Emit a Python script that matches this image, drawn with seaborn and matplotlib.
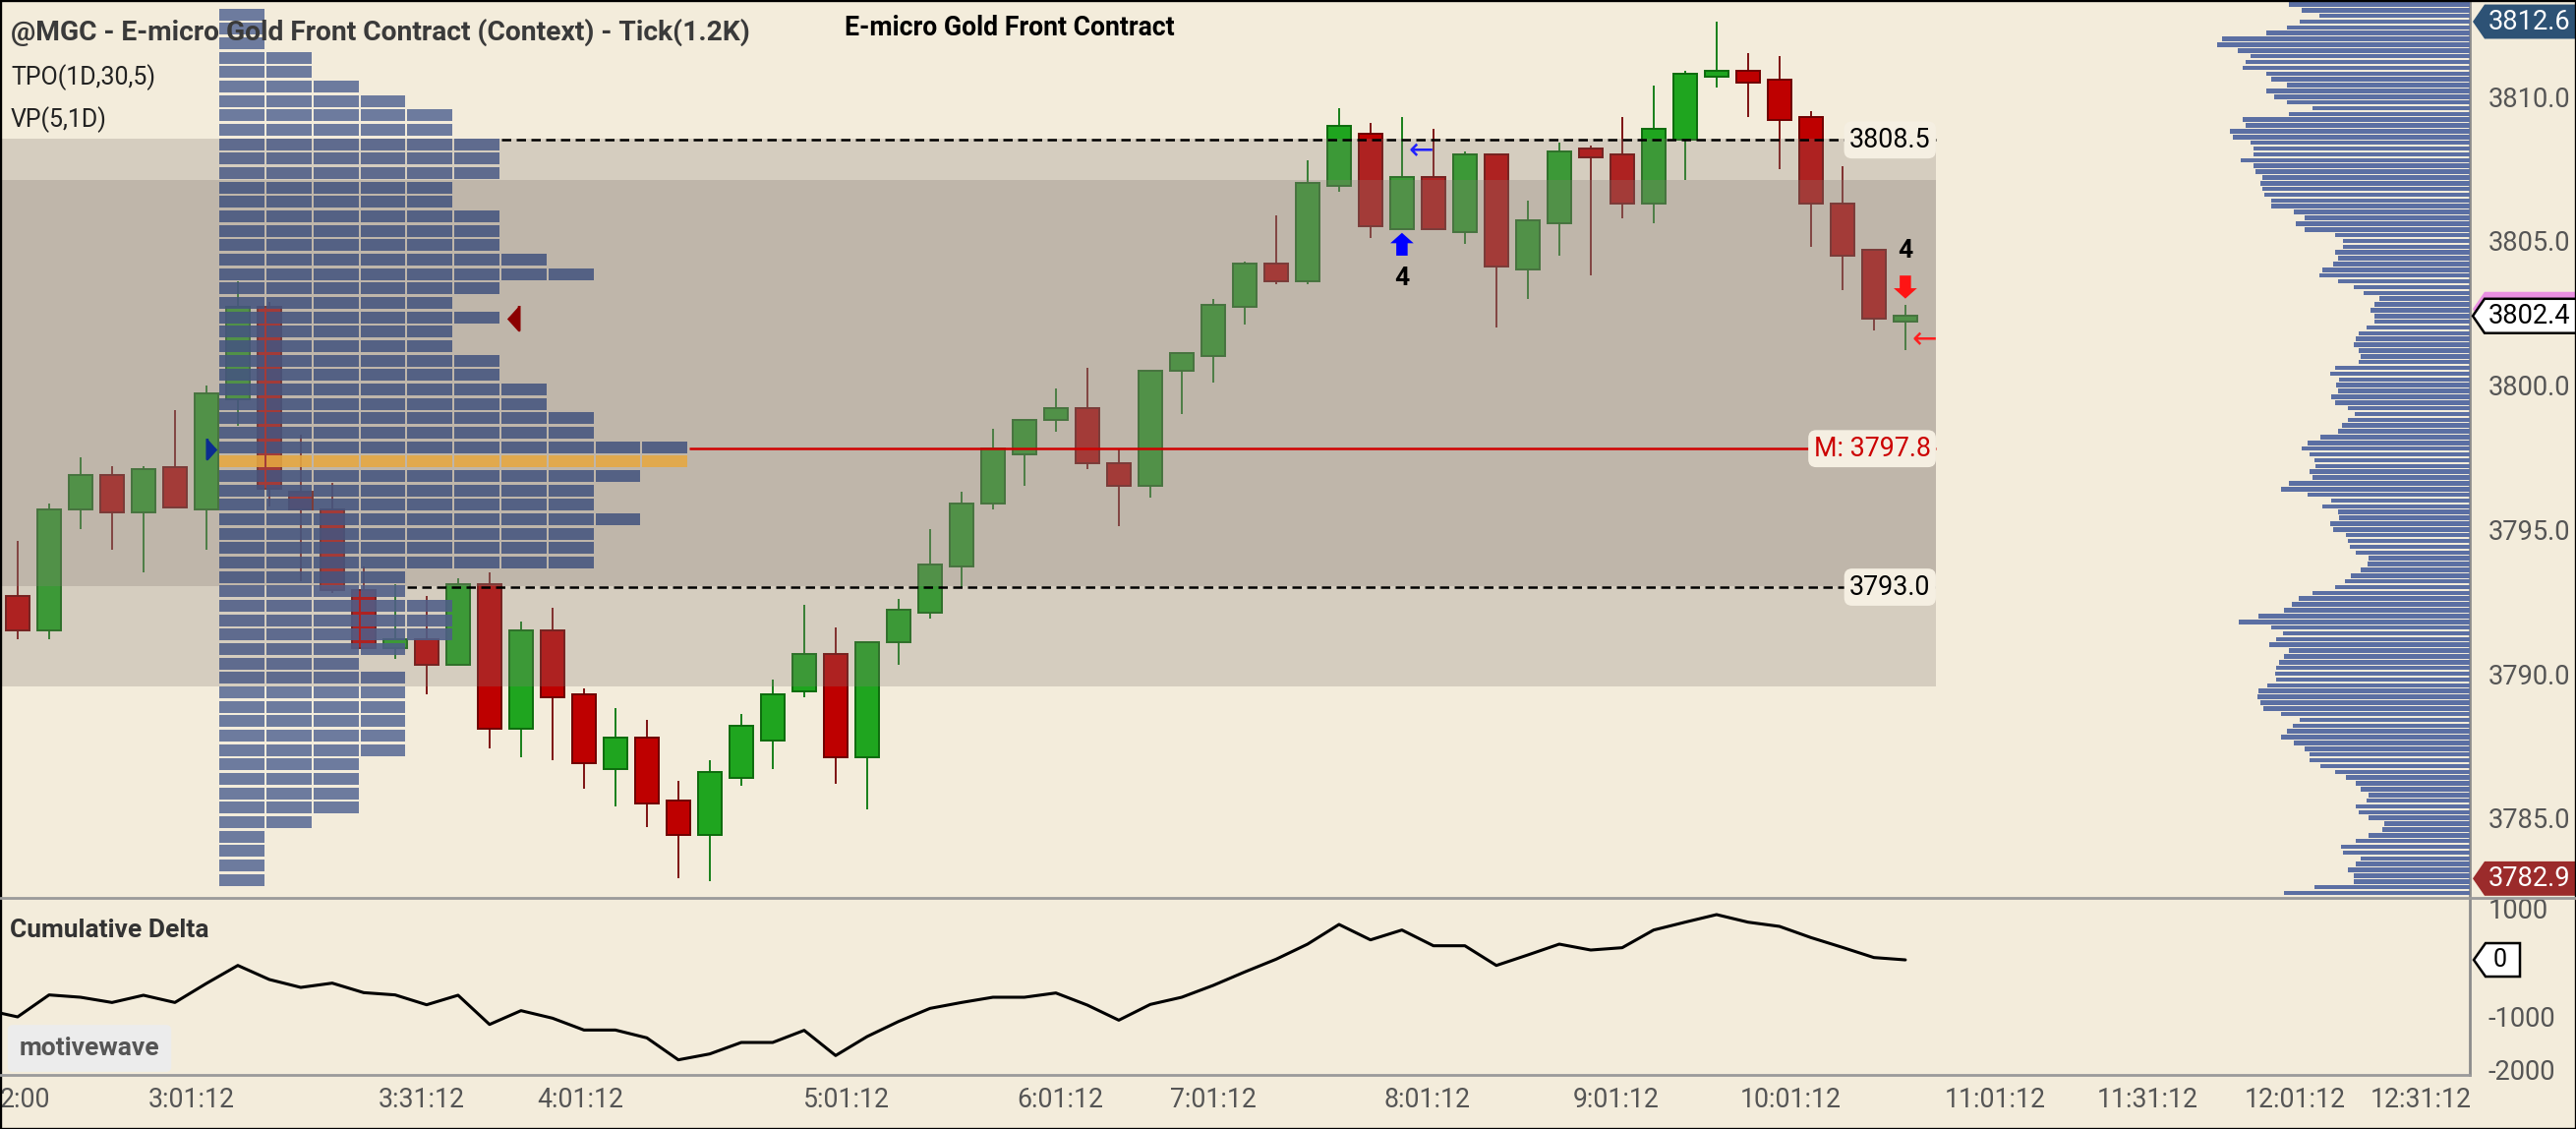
import numpy as np
import pandas as pd
import matplotlib
matplotlib.use("Agg")
import matplotlib.pyplot as plt
import matplotlib.transforms as mtransforms
from matplotlib.patches import Polygon, Rectangle
from matplotlib.lines import Line2D
import seaborn as sns

# ---- values ----
opens = [3792.7, 3791.5, 3795.7, 3796.9, 3795.6, 3797.15, 3795.7, 3799.5, 3802.7, 3796.3,
         3795.7, 3792.9, 3790.9, 3791.2, 3790.3, 3793.1, 3788.1, 3791.5, 3789.3, 3786.7,
         3787.8, 3785.6, 3784.4, 3786.4, 3787.7, 3789.4, 3790.7, 3787.1, 3791.1, 3792.1,
         3793.7, 3795.9, 3797.6, 3798.8, 3799.2, 3797.3, 3796.5, 3800.5, 3801.0, 3802.7,
         3804.2, 3803.6, 3806.9, 3808.7, 3805.4, 3807.2, 3805.3, 3808.0, 3804.0, 3805.6,
         3808.2, 3808.0, 3806.3, 3808.5, 3810.7, 3810.9, 3810.6, 3809.3, 3806.3, 3804.7,
         3802.2]
highs = [3794.6, 3795.9, 3797.5, 3797.2, 3797.2, 3799.15, 3800.0, 3803.6, 3802.9, 3798.3,
         3796.6, 3793.7, 3793.1, 3792.7, 3793.3, 3793.5, 3791.8, 3792.3, 3789.5, 3788.8,
         3788.4, 3786.3, 3787.0, 3788.6, 3789.8, 3792.4, 3791.6, 3791.1, 3792.6, 3795.0,
         3796.3, 3798.5, 3798.8, 3799.9, 3800.6, 3797.8, 3800.5, 3801.1, 3803.0, 3804.3,
         3805.9, 3807.8, 3809.6, 3809.1, 3809.3, 3808.9, 3808.1, 3808.0, 3806.4, 3808.4,
         3808.3, 3809.3, 3810.4, 3810.9, 3812.6, 3811.5, 3811.4, 3809.5, 3807.6, 3804.7,
         3802.8]
lows = [3791.2, 3791.2, 3795.0, 3794.3, 3793.5, 3795.75, 3794.3, 3798.6, 3795.8, 3793.2,
        3792.8, 3790.9, 3790.5, 3789.3, 3790.3, 3787.4, 3787.1, 3787.0, 3786.0, 3785.4,
        3784.7, 3782.9, 3782.8, 3786.1, 3786.7, 3789.2, 3786.2, 3785.3, 3790.3, 3791.9,
        3793.0, 3795.7, 3796.5, 3798.4, 3797.1, 3795.1, 3796.1, 3799.0, 3800.1, 3802.1,
        3803.5, 3803.5, 3806.7, 3805.1, 3805.4, 3805.4, 3804.9, 3802.0, 3803.0, 3804.5,
        3803.8, 3805.8, 3805.6, 3807.1, 3810.3, 3809.3, 3807.5, 3804.8, 3803.3, 3801.9,
        3801.2]
closes = [3791.5, 3795.7, 3796.9, 3795.6, 3797.1, 3795.75, 3799.7, 3802.7, 3796.4, 3795.7,
          3792.9, 3790.9, 3791.2, 3790.3, 3793.1, 3788.1, 3791.5, 3789.2, 3786.9, 3787.8,
          3785.5, 3784.4, 3786.6, 3788.2, 3789.3, 3790.7, 3787.1, 3791.1, 3792.2, 3793.8,
          3795.9, 3797.8, 3798.8, 3799.2, 3797.3, 3796.5, 3800.5, 3801.1, 3802.8, 3804.2,
          3803.6, 3807.0, 3809.0, 3805.5, 3807.2, 3805.4, 3808.0, 3804.1, 3805.7, 3808.1,
          3807.9, 3806.3, 3808.9, 3810.8, 3810.9, 3810.5, 3809.2, 3806.3, 3804.5, 3802.3,
          3802.4]

delta_prev = -890
cum_delta = [-1018, -612, -655, -752, -618, -752, -400, -67, -327, -473,
             -394, -570, -612, -794, -618, -1158, -903, -1042, -1261, -1261,
             -1406, -1812, -1703, -1491, -1491, -1267, -1733, -1382, -1103, -861,
             -752, -655, -655, -576, -800, -1079, -788, -655, -436, -188,
             48, 327, 691, 406, 588, 297, 297, -67, 127, 327,
             218, 261, 588, 733, 873, 733, 655, 448, 267, 79, 36]

# TPO profile: blocks per 0.5 row, from the top row down
tpo_top = 3812.85
tpo_step = 0.5
tpo_counts = [1, 1, 1, 2, 2, 3, 4, 5, 5, 6,
              6, 6, 5, 5, 6, 6, 6, 7, 8, 6,
              5, 6, 5, 5, 6, 6, 7, 7, 8, 8,
              10, 10, 9, 8, 8, 9, 8, 8, 8, 4,
              4, 5, 5, 5, 4, 3, 4, 4, 4, 4,
              4, 4, 3, 3, 3, 3, 2, 1, 1, 1, 1]
poc_price = 3797.35
tpo_marker_price = 3802.35

# volume profile on the right edge, 0.2 rows from the top down
vp_top = 3813.2
vp_step = 0.2
vp_volume = [184, 171, 153, 173, 186, 207, 252, 257, 236, 223,
             228, 231, 207, 202, 186, 207, 199, 186, 160, 184,
             231, 228, 244, 241, 223, 220, 220, 233, 220, 218,
             211, 213, 211, 209, 202, 202, 179, 168, 177, 168,
             137, 129, 129, 137, 134, 139, 150, 153, 134, 118,
             108, 92, 97, 101, 97, 97, 105, 113, 116, 118,
             113, 111, 113, 137, 142, 133, 136, 134, 141, 137,
             124, 117, 124, 130, 134, 152, 165,
             171, 163, 158, 157, 163, 160, 184, 192, 165, 141,
             150, 134, 133, 142, 139, 126, 124, 122, 116, 103,
             104, 111, 121, 127, 137, 160, 174, 181, 189, 215,
             235, 202, 190, 197, 204, 184, 189, 194, 197, 198,
             197, 206, 215, 216, 213, 210, 192, 173, 180, 186,
             192, 179, 168, 163, 163, 152, 137, 126, 116, 111,
             103, 105, 116, 113, 103, 87, 89, 103, 116, 131,
             129, 111, 116, 124, 118, 118, 158, 189]

va_high = 3808.5
va_low = 3793.0
mid_price = 3797.8
band_outer = (3789.55, 3808.55)
band_inner = (3793.05, 3807.1)

session_high = 3812.6
session_low = 3782.9
last_price = 3802.4

signal_up_bar, signal_up_count = 44, 4
signal_dn_bar, signal_dn_count = 60, 4

time_labels = ["2:00", "3:01:12", "3:31:12", "4:01:12", "5:01:12", "6:01:12", "7:01:12",
               "8:01:12", "9:01:12", "10:01:12", "11:01:12", "11:31:12", "12:01:12", "12:31:12"]
time_pos = [0.25, 5.53, 12.85, 17.88, 26.35, 33.13, 38.0, 44.8, 50.8, 56.35,
            62.85, 67.7, 72.4, 76.4]
price_ticks = [3785, 3790, 3795, 3800, 3805, 3810]
delta_ticks = [1000, -1000, -2000]

# ---- layout (pixels of the 2620x1148 picture) ----
W, H, DPI = 2620, 1148, 200
PANEL_R, MAIN_B, DELTA_B = 2512, 913, 1093
BAR_PX, BAR0_PX = 32.0, 17.9
BAND_R_PX = 1969
CREAM = "#f3ecdb"

def fx(x):
    return x / W

def fy(y):
    return 1 - y / H

def bar_of(px):
    return (px - BAR0_PX) / BAR_PX

sns.set_theme(style="white")
plt.rcParams["font.family"] = ["Roboto", "DejaVu Sans"]

fig = plt.figure(figsize=(W / DPI, H / DPI), dpi=DPI)
fig.patch.set_facecolor(CREAM)
ax = fig.add_axes([0, fy(MAIN_B), fx(PANEL_R), MAIN_B / H])
axd = fig.add_axes([0, fy(DELTA_B), fx(PANEL_R), (DELTA_B - MAIN_B) / H])
xlim = (bar_of(0), bar_of(PANEL_R))
for a in (ax, axd):
    a.set_facecolor(CREAM)
    a.set_xlim(xlim)
    for s in ("top", "left", "bottom"):
        a.spines[s].set_visible(False)
    a.spines["right"].set_color("#8c8c8c")
    a.spines["right"].set_linewidth(1.0)
ax.set_ylim(3782.23, 3813.35)
axd.set_ylim(-2091, 1182)

# candles
df = pd.DataFrame({"o": opens, "h": highs, "l": lows, "c": closes})
df["i"] = np.arange(len(df))
up = df.c >= df.o
body_col = np.where(up, "#1fa51f", "#be0000").tolist()
edge_col = np.where(up, "#0d6b0d", "#6e0000").tolist()
wick_col = np.where(up, "#17801a", "#7d1212").tolist()
ax.vlines(df.i, df.l, df.h, colors=wick_col, lw=0.7, zorder=2)
ax.bar(df.i, np.maximum((df.c - df.o).abs(), 0.12), bottom=np.minimum(df.o, df.c),
       width=0.76, color=body_col, edgecolor=edge_col, linewidth=0.7, zorder=2.5)

# value area shading
band_right = bar_of(BAND_R_PX)
for lo, hi in (band_outer, band_inner):
    ax.add_patch(Rectangle((xlim[0], lo), band_right - xlim[0], hi - lo,
                           fc="#887d77", alpha=0.28, lw=0, zorder=3))

# TPO blocks
TPO_X0 = bar_of(223.2)
TPO_PITCH = 47.8 / BAR_PX
TPO_BLOCK = 45.8 / BAR_PX
tpo_prices = tpo_top - tpo_step * np.arange(len(tpo_counts))
for p, cnt in zip(tpo_prices, tpo_counts):
    if abs(p - poc_price) < 0.01:
        col = "#e6a840"
    elif band_inner[0] < p < band_inner[1]:
        col = "#45557f"
    elif band_outer[0] < p < band_outer[1]:
        col = "#4f5e88"
    else:
        col = "#5b6b96"
    ax.barh([p] * cnt, [TPO_BLOCK] * cnt, left=TPO_X0 + TPO_PITCH * np.arange(cnt),
            height=0.41, color=col, alpha=0.88, lw=0, zorder=4)

def tpo_end(price):
    k = int(np.argmin(np.abs(tpo_prices - price)))
    return TPO_X0 + TPO_PITCH * tpo_counts[k]

# volume profile
vp_prices = vp_top - vp_step * np.arange(len(vp_volume))
vp_w = np.array(vp_volume) / BAR_PX
ax.barh(vp_prices, vp_w, left=xlim[1] - vp_w, height=0.155, color="#5b6fa3", lw=0, zorder=4)

# reference lines and labels
ax.hlines(mid_price, tpo_end(mid_price), band_right, colors="#d00000", lw=0.9, zorder=5)
for lv in (va_high, va_low):
    ax.hlines(lv, tpo_end(lv), band_right, colors="black", linestyles=(0, (3.8, 2.2)),
              lw=0.9, zorder=5)
for lv, txt, col in ((va_high, f"{va_high:.1f}", "black"),
                     (va_low, f"{va_low:.1f}", "black"),
                     (mid_price, f"M: {mid_price:.1f}", "#cc0000")):
    ax.text(band_right - 0.17, lv, txt, ha="right", va="center", fontsize=9.7, color=col,
            zorder=7, bbox=dict(boxstyle="round,pad=0.2,rounding_size=0.3", fc="#f5efe2", ec="none"))

# TPO markers
ax.plot(tpo_end(tpo_marker_price) + 0.38, tpo_marker_price,
        marker=[(-0.45, 0), (0.45, -1), (0.45, 1)], ms=9, color="#8b0000", zorder=6)
ax.plot(TPO_X0 - 0.27, mid_price, marker=[(0.45, 0), (-0.45, -1), (-0.45, 1)],
        ms=7.5, color="#0b2d8f", zorder=6)

# signals
ax.arrow(signal_up_bar, 3804.49, 0, 0.79, width=0.36, head_width=0.74, head_length=0.36,
         length_includes_head=True, fc="#0000ff", ec="none", zorder=6)
ax.text(signal_up_bar, 3803.7, str(signal_up_count), ha="center", va="center",
        fontsize=9.5, fontweight="bold", color="black", zorder=6)
ax.text(signal_up_bar + 0.62, 3808.11, "\u2190", ha="center", va="center", fontsize=11,
        color="#2020ff", family="DejaVu Sans", zorder=6)
ax.arrow(signal_dn_bar, 3803.8, 0, -0.8, width=0.36, head_width=0.74, head_length=0.36,
         length_includes_head=True, fc="#ff1414", ec="none", zorder=6)
ax.text(signal_dn_bar, 3804.66, str(signal_dn_count), ha="center", va="center",
        fontsize=9.5, fontweight="bold", color="black", zorder=6)
ax.text(signal_dn_bar + 0.62, 3801.57, "\u2190", ha="center", va="center", fontsize=11,
        color="#ff2020", family="DejaVu Sans", zorder=6)

# right axis
ax.yaxis.tick_right()
ax.set_yticks(price_ticks)
ax.set_yticklabels([f"{t:.1f}" for t in price_ticks])
ax.tick_params(axis="y", length=0, pad=6.8, labelsize=9.8, labelcolor="#555555")
ax.set_xticks([])

def price_tag(a, y, h, txt, fc, ec, tc, tip_px=2515, right_px=2625, notch_px=12):
    tr = mtransforms.blended_transform_factory(a.transAxes, a.transData)
    x0, x1, xr = tip_px / PANEL_R, (tip_px + notch_px) / PANEL_R, right_px / PANEL_R
    poly = Polygon([(x0, y), (x1, y + h / 2), (xr, y + h / 2), (xr, y - h / 2), (x1, y - h / 2)],
                   closed=True, fc=fc, ec=ec, lw=0.9, transform=tr, clip_on=False, zorder=8)
    a.add_patch(poly)
    if txt:
        a.text(2531 / PANEL_R, y, txt, transform=tr, ha="left", va="center", fontsize=9.8,
               color=tc, clip_on=False, zorder=9)

price_tag(ax, session_high, 1.19, f"{session_high:.1f}", "#2d5275", "none", "white")
price_tag(ax, last_price + 0.24, 1.19, "", "#e98fe2", "none", "black")
price_tag(ax, last_price, 1.19, f"{last_price:.1f}", "white", "black", "black")
price_tag(ax, session_low, 1.19, f"{session_low:.1f}", "#9b2b2b", "none", "white")

# cumulative delta
sns.lineplot(x=np.arange(-1, len(cum_delta)), y=[delta_prev] + cum_delta, ax=axd,
             color="black", lw=1.1, legend=False)
axd.set_xlabel("")
axd.set_ylabel("")
axd.yaxis.tick_right()
axd.set_yticks(delta_ticks)
axd.set_yticklabels([str(t) for t in delta_ticks])
axd.tick_params(axis="y", length=0, pad=6.8, labelsize=9.8, labelcolor="#555555")
axd.set_xticks(time_pos)
axd.set_xticklabels(time_labels)
axd.tick_params(axis="x", length=0, pad=4.5, labelsize=9.6, labelcolor="#555555")
price_tag(axd, cum_delta[-1], 618, "", "white", "black", "black", tip_px=2516, right_px=2563)
axd.text(2536 / PANEL_R, cum_delta[-1], "0",
         transform=mtransforms.blended_transform_factory(axd.transAxes, axd.transData),
         ha="left", va="center", fontsize=9, color="black", clip_on=False, zorder=9)

# separators and frame
fig.add_artist(Line2D([0, 1], [fy(MAIN_B)] * 2, transform=fig.transFigure, color="#9a9a9a", lw=1.0))
fig.add_artist(Line2D([0, fx(PANEL_R)], [fy(DELTA_B)] * 2, transform=fig.transFigure,
                      color="#9a9a9a", lw=1.0))
fig.add_artist(Rectangle((0, 0), 1, 1, transform=fig.transFigure, fill=False, ec="black", lw=1.2))

# texts
fig.text(fx(11), fy(33), "@MGC - E-micro Gold Front Contract (Context) - Tick(1.2K)",
         ha="left", va="center", fontsize=10.2, fontweight="bold", color="#3a3a3a")
fig.text(fx(1027), fy(29), "E-micro Gold Front Contract", ha="center", va="center",
         fontsize=9.6, fontweight="bold", color="black")
fig.text(fx(11), fy(79), "TPO(1D,30,5)", ha="left", va="center", fontsize=9, color="#222222")
fig.text(fx(11), fy(122), "VP(5,1D)", ha="left", va="center", fontsize=9, color="#222222")
fig.text(fx(10), fy(946), "Cumulative Delta", ha="left", va="center", fontsize=9.5,
         fontweight="bold", color="#333333")
fig.text(fx(91), fy(1066), "motivewave", ha="center", va="center", fontsize=9.5,
         fontweight="bold", color="#555555",
         bbox=dict(boxstyle="round,pad=0.45,rounding_size=0.2", fc="#ececec", ec="none"))

fig.savefig("out.png", dpi=DPI, facecolor=CREAM)
